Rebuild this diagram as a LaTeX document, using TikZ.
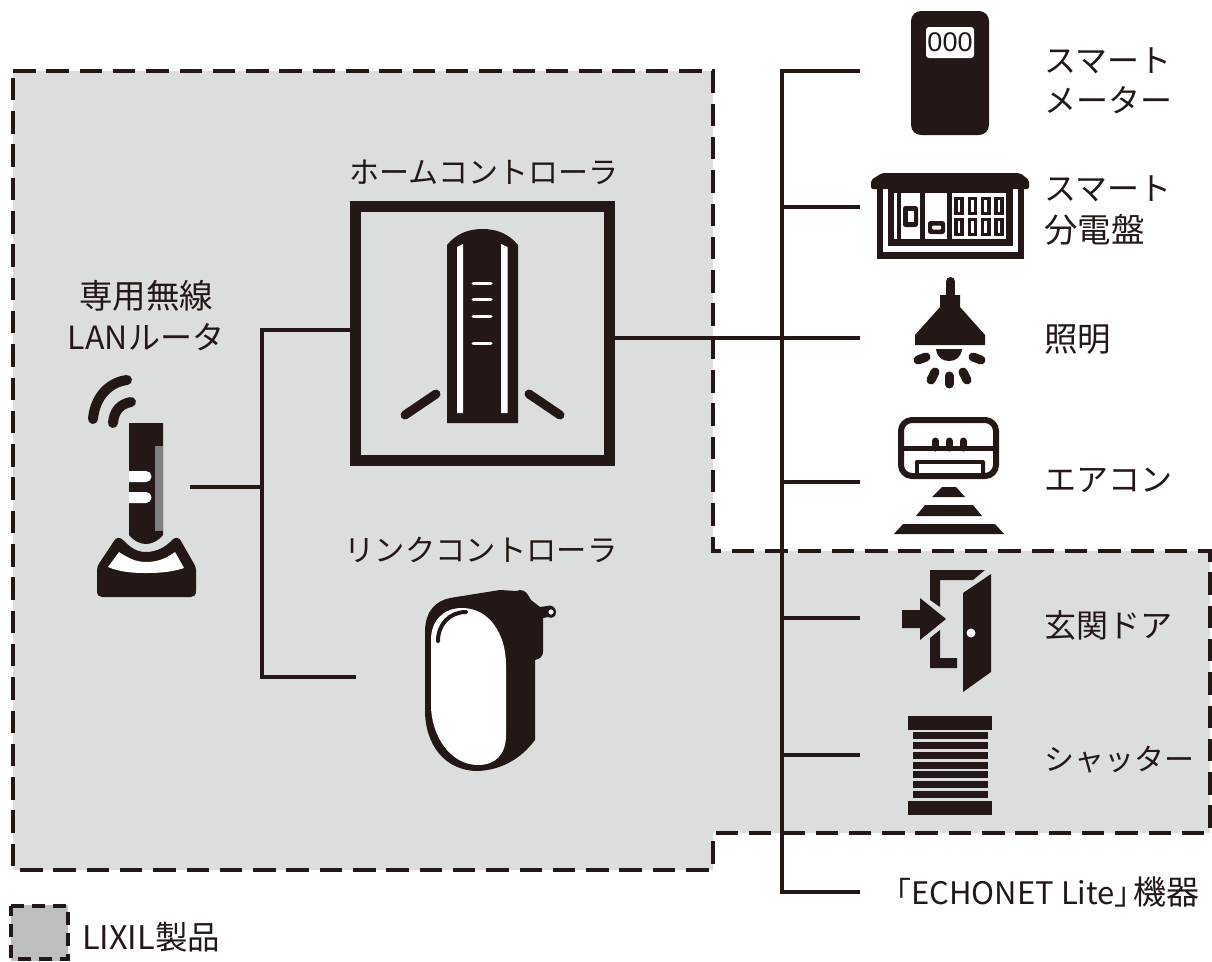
\documentclass[tikz,border=0pt]{standalone}
\usepackage{fontspec}
\setmainfont{Noto Sans CJK JP}
\newfontfamily\digitfont{Liberation Sans}
\definecolor{ink}{HTML}{231815}
\definecolor{panel}{HTML}{DCDEDD}
\definecolor{legendgray}{HTML}{BCBEC0}
\definecolor{stripe}{HTML}{808080}
\newcommand{\fsz}[2]{\fontsize{#1}{#2}\selectfont}
\tikzset{
  zone/.style={draw=ink,line width=4pt,dash pattern=on 22.5pt off 10.8pt},
  smallzone/.style={draw=ink,line width=3.6pt,dash pattern=on 13pt off 8pt},
  wire/.style={draw=ink,line width=4pt},
  round bar/.style={draw=ink,line cap=round},
  txt/.style={font=\fsz{30}{40},text=ink,inner sep=0pt,align=center},
}
\begin{document}
\begin{tikzpicture}[x=1pt,y=-1pt]
\useasboundingbox (0,0) rectangle (1212,961);
% zone
\fill[panel] (13,71) -- (713,71) -- (713,551) -- (1210,551) -- (1210,833) -- (713,833) -- (713,870) -- (13,870) -- cycle;
\draw[zone] (13,71) -- (713,71) -- (713,551) -- (1210,551) -- (1210,833) -- (713,833) -- (713,870) -- (13,870) -- cycle;
% legend
\fill[legendgray] (11,905) rectangle (68,961);
\draw[smallzone] (11,906) -- (68,906) -- (68,959) -- (11,959) -- cycle;
\node[txt,anchor=west,font=\fsz{32.5}{40}] (legendtext) at (82,937) {LIXIL製品};

% connector anchors
\coordinate (routerport) at (190,487);
\coordinate (hubA) at (262,487);
\coordinate (hubAtop) at (262,330);
\coordinate (hubAbot) at (262,677);
\coordinate (homeL) at (352,330);
\coordinate (linkL) at (356,677);
\coordinate (homeR) at (614,338);
\coordinate (trunkTop) at (782,71);
\coordinate (trunkBot) at (782,892);
\coordinate (t2) at (782,207);
\coordinate (t4) at (782,482);
\coordinate (t5) at (782,618);
\coordinate (t6) at (782,755);
\coordinate (d1) at (860,71);
\coordinate (d2) at (860,207);
\coordinate (d3) at (860,338);
\coordinate (d4) at (860,482);
\coordinate (d5) at (860,618);
\coordinate (d6) at (860,755);
\coordinate (d7) at (860,892);
\draw[wire] (routerport) -- (hubA);
\draw[wire] (homeL) -- (hubAtop) -- (hubAbot) -- (linkL);
\draw[wire] (d1) -- (trunkTop) -- (trunkBot) -- (d7);
\draw[wire] (t2) -- (d2);
\draw[wire] (homeR) -- (d3);
\draw[wire] (t4) -- (d4);
\draw[wire] (t5) -- (d5);
\draw[wire] (t6) -- (d6);

% home controller
\node[draw=ink,line width=10.5pt,minimum width=254pt,minimum height=254pt,inner sep=0pt,anchor=center,outer sep=0pt] (home) at (482.5,333.5) {};
\fill[ink] (447,423) -- (447,245) .. controls (456,234) and (468,229) .. (482.5,229) .. controls (497,229) and (509,234) .. (518,245) -- (518,423) -- cycle;
\fill[white] (457,247) -- (463,244) -- (463,413) -- (457,413) -- cycle;
\fill[white] (501,244) -- (507.5,247) -- (507.5,413) -- (501,413) -- cycle;
\foreach \yy in {283,299,316,343} \draw[white,line width=3pt,line cap=round] (473,\yy) -- (491,\yy);
\draw[round bar,line width=9pt] (405,415) -- (436,394);
\draw[round bar,line width=9pt] (529,394) -- (560,415);

% router
\draw[round bar,line width=10pt] (93,419) .. controls (95,396) and (110,382) .. (127,380);
\draw[round bar,line width=10pt] (113,423) .. controls (114,411) and (120,404) .. (131,402);
\fill[ink] (129,423) -- (163,423) -- (163,535) .. controls (158,541) and (152,544) .. (146,544) .. controls (140,544) and (134,541) .. (129,535) -- cycle;
\fill[stripe] (155,446) rectangle (163,531);
\fill[white] (129,471) -- (146,471) arc[start angle=-90,end angle=90,radius=5.5] -- (129,482) -- cycle;
\fill[white] (129,492) -- (146,492) arc[start angle=-90,end angle=90,radius=5.5] -- (129,503) -- cycle;
\fill[ink] (100,562) -- (114,541) .. controls (116,537) and (120,537) .. (123,540) .. controls (130,547) and (136,552) .. (146,552) .. controls (156,552) and (166,547) .. (172,540) .. controls (175,537) and (179,537) .. (181,541) -- (193,562) .. controls (195,565) and (196,567) .. (196,570) -- (196,591) .. controls (196,595) and (194,597) .. (191,597) -- (102,597) .. controls (99,597) and (97,595) .. (97,591) -- (97,570) .. controls (97,567) and (98,565) .. (100,562) -- cycle;
\fill[white] (108,567) -- (119,552) .. controls (128,558) and (136,562) .. (146,562) .. controls (158,562) and (167,558) .. (175,552) -- (184,568) .. controls (172,572) and (160,573) .. (146,573) .. controls (132,573) and (120,572) .. (108,567) -- cycle;

% link controller
\fill[ink] (425,630) .. controls (426,610) and (436,601) .. (450,598) -- (500,590) -- (517,591) .. controls (519,589) and (526,590) .. (528,595) -- (531,600) -- (540,607) -- (547,606) .. controls (552,604) and (556,608) .. (556,612) .. controls (556,617) and (552,619) .. (548,617) -- (543,618) -- (543,652) .. controls (543,656) and (540,659) .. (535,660) -- (535,740) .. controls (520,760) and (500,770) .. (478,771) .. controls (445,771) and (425,745) .. (425,710) -- cycle;
\fill[white] (431,640) .. controls (431,620) and (444,608) .. (462,608) .. controls (490,608) and (506,635) .. (506,665) -- (506,735) .. controls (506,755) and (495,765) .. (478,765) .. controls (450,765) and (431,735) .. (431,705) -- cycle;
\draw[round bar,line width=4pt] (438,641) .. controls (438,624) and (450,612) .. (466,612);
\fill[white] (551,612) circle (2.6);

% meter
\fill[ink,rounded corners=10pt] (911,11) rectangle (989,135);
\fill[white,rounded corners=3pt] (926,27) rectangle (974,58);
\node[font=\digitfont\fontsize{27}{27}\selectfont,text=ink,inner sep=0pt] (digits) at (950,42) {000};

% panel
\fill[ink] (877,186) rectangle (1024,259);
\fill[white] (883,186) rectangle (1018,252);
\fill[ink] (888,186) rectangle (1013,246);
\fill[ink,rounded corners=2pt] (871,189) -- (871,180) -- (882,173) -- (1020,173) -- (1029,180) -- (1029,189) -- cycle;
\fill[white] (894,193) rectangle (897,239);
\fill[white] (901,193) rectangle (920,239);
\fill[white] (925,193) rectangle (947,239);
\fill[white] (952,193) rectangle (1006,239);
\fill[ink,rounded corners=2.5pt] (903,206) rectangle (918,227);
\fill[white] (908,211) rectangle (914,222);
\fill[ink,rounded corners=2.5pt] (928,221) rectangle (945,234);
\fill[white,rounded corners=1pt] (932,225.5) rectangle (941,229.5);
\foreach \xx in {954.3,967.6,980.9,994.2} {
  \fill[ink] (\xx,197) rectangle ++(9.6,18);
  \fill[ink] (\xx,218) rectangle ++(9.6,18);
  \fill[white] (\xx+3.5,200) rectangle ++(2.6,12);
  \fill[white] (\xx+3.5,221) rectangle ++(2.6,12);
}

% lamp
\draw[round bar,line width=9pt] (950.5,281.5) -- (950.5,300);
\fill[ink] (940,295) -- (960,295) -- (960,307) -- (985,335) -- (985,345) -- (915,345) -- (915,335) -- (940,307) -- cycle;
\fill[ink] (936,349) -- (962,349) .. controls (961,357) and (956,361) .. (949,361) .. controls (942,361) and (937,357) .. (936,349) -- cycle;
\draw[round bar,line width=9pt] (918,360) -- (926,357);
\draw[round bar,line width=9pt] (973,357) -- (981,360);
\draw[round bar,line width=9pt] (931,380) -- (935,372);
\draw[round bar,line width=9pt] (949,376) -- (949,384);
\draw[round bar,line width=9pt] (963,372) -- (967,380);

% air conditioner
\draw[ink,line width=6pt,rounded corners=11pt] (901,420) rectangle (996,476);
\fill[ink] (901,445.5) rectangle (996,450.5);
\foreach \xx in {935,949,963} \draw[round bar,line width=7pt] (\xx,441) -- (\xx,448);
\fill[ink,rounded corners=2pt] (915,460) rectangle (985,478);
\fill[white] (919,464) rectangle (981,473);
\fill[ink] (932,497) -- (942,487) -- (956,487) -- (965,497) -- cycle;
\fill[ink] (916,516) -- (925,505) -- (973,505) -- (982,516) -- cycle;
\fill[ink] (894,534) -- (903,524) -- (995,524) -- (1004,534) -- cycle;

% door
\fill[ink] (930,570) -- (985,570) -- (973,580) -- (940,580) -- (940,607) -- (930,600) -- cycle;
\fill[ink] (930,638) -- (940,630) -- (940,658) -- (957,658) -- (957,668) -- (930,668) -- cycle;
\fill[ink] (902,610) -- (920,610) -- (920,598) -- (946,619) -- (920,640) -- (920,628) -- (902,628) -- cycle;
\fill[ink] (963,593) -- (991,574) -- (991,672) -- (963,692) -- cycle;
\fill[white] (971,633) circle (4.5);

% shutter
\fill[ink] (908,716) rectangle (992,730);
\fill[ink] (908,801) rectangle (992,815);
\foreach \yy in {732,742,752,762,771,781,791} \fill[ink] (913,\yy) rectangle (988,\yy+7);

% labels
\node[txt] (lblhome) at (484,172) {ホームコントローラ};
\node[txt,font=\fsz{33.5}{41}] (lblrouter) at (146,316) {専用無線\\{\fsz{32}{41}LANルータ}};
\node[txt,font=\fsz{30.3}{40}] (lbllink) at (481,550) {リンクコントローラ};
\node[txt,align=left,anchor=west,font=\fsz{32}{40}] (lblmeter) at (1044,81) {スマート\\メーター};
\node[txt,align=left,anchor=west,font=\fsz{32}{42}] (lblpanel) at (1044,211) {スマート\\{\fsz{33.5}{42}分電盤}};
\node[txt,anchor=west,font=\fsz{33.5}{40}] (lbllight) at (1044,340) {照明};
\node[txt,anchor=west,font=\fsz{32}{40}] (lblac) at (1044,480) {エアコン};
\node[txt,anchor=west,font=\fsz{32}{40}] (lbldoor) at (1044,625) {玄関ドア};
\node[txt,anchor=west] (lblshutter) at (1044,760) {シャッター};
\node[txt,anchor=west,font=\fsz{31}{40}] (lblechonet) at (880,892) {「ECHONET Lite」\hspace{-12pt}{\fsz{33}{40}機器}};
\end{tikzpicture}
\end{document}
